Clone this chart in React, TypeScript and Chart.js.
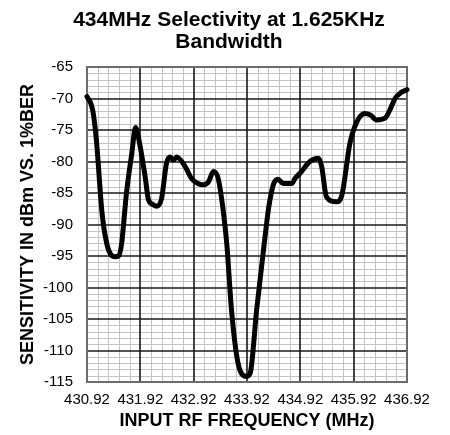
import React, { useEffect, useRef } from 'react';
import { Chart, registerables } from 'chart.js';

Chart.register(...registerables);

const FREQ_MHZ = [
  430.92, 431.0, 431.04, 431.1, 431.2, 431.29, 431.38, 431.45, 431.51, 431.57,
  431.63, 431.66, 431.76, 431.83, 431.91, 432.01, 432.07, 432.15, 432.23, 432.32,
  432.41, 432.48, 432.54, 432.6, 432.76, 432.88, 433.0, 433.1, 433.2, 433.29,
  433.38, 433.48, 433.54, 433.63, 433.73, 433.82, 433.915, 433.98, 434.1, 434.23,
  434.32, 434.35, 434.42, 434.5, 434.6, 434.76, 434.82, 434.91, 435.1, 435.26,
  435.32, 435.41, 435.6, 435.7, 435.85, 435.98, 436.13, 436.23, 436.35, 436.51,
  436.6, 436.695, 436.8, 436.92,
];
const SENS_DBM = [
  -69.7, -71.0, -72.5, -77.0, -88.0, -93.0, -94.9, -95.1, -95.0, -93.0,
  -87.7, -85.0, -78.7, -74.6, -77.3, -82.4, -86.0, -86.8, -87.1, -85.8,
  -80.3, -79.3, -79.8, -79.3, -80.8, -82.7, -83.5, -83.7, -83.2, -81.6,
  -82.7, -88.2, -93.0, -103.6, -111.0, -113.7, -114.1, -113.6, -103.6, -94.0,
  -87.7, -86.1, -83.5, -82.8, -83.5, -83.5, -82.7, -81.9, -80.0, -79.5,
  -80.8, -85.6, -86.4, -85.3, -77.1, -73.7, -72.4, -72.6, -73.4, -73.1,
  -71.8, -70.0, -69.1, -68.6,
];

const X_TICKS = [430.92, 431.92, 432.92, 433.92, 434.92, 435.92, 436.92];
const Y_TICKS = [-115, -110, -105, -100, -95, -90, -85, -80, -75, -70, -65];
const X_MINOR_PER_MAJOR = 5;
const Y_MINOR_PER_MAJOR = 5;

const TITLE = ['434MHz Selectivity at 1.625KHz', 'Bandwidth'];
const X_TITLE = 'INPUT RF FREQUENCY (MHz)';
const Y_TITLE = 'SENSITIVITY IN dBm VS. 1%BER';

const FONT = '"Liberation Sans", Arial, Helvetica, sans-serif';

const paperGrid = {
  id: 'paperGrid',
  beforeDatasetsDraw(chart: any) {
    const { ctx, chartArea: a, scales } = chart;
    const xs = scales.x;
    const ys = scales.y;
    ctx.save();
    ctx.lineWidth = 1;
    ctx.strokeStyle = '#c4c4c4';
    ctx.beginPath();
    for (let i = 0; i < X_TICKS.length - 1; i++) {
      const step = (X_TICKS[i + 1] - X_TICKS[i]) / X_MINOR_PER_MAJOR;
      for (let k = 1; k < X_MINOR_PER_MAJOR; k++) {
        const px = Math.round(xs.getPixelForValue(X_TICKS[i] + k * step)) + 0.5;
        ctx.moveTo(px, a.top);
        ctx.lineTo(px, a.bottom);
      }
    }
    for (let i = 0; i < Y_TICKS.length - 1; i++) {
      const step = (Y_TICKS[i + 1] - Y_TICKS[i]) / Y_MINOR_PER_MAJOR;
      for (let k = 1; k < Y_MINOR_PER_MAJOR; k++) {
        const py = Math.round(ys.getPixelForValue(Y_TICKS[i] + k * step)) + 0.5;
        ctx.moveTo(a.left, py);
        ctx.lineTo(a.right, py);
      }
    }
    ctx.stroke();
    ctx.lineWidth = 1.6;
    ctx.strokeStyle = '#1a1a1a';
    ctx.beginPath();
    X_TICKS.forEach((v) => {
      const px = Math.round(xs.getPixelForValue(v));
      ctx.moveTo(px, a.top);
      ctx.lineTo(px, a.bottom);
    });
    Y_TICKS.forEach((v) => {
      const py = Math.round(ys.getPixelForValue(v));
      ctx.moveTo(a.left, py);
      ctx.lineTo(a.right, py);
    });
    ctx.stroke();
    ctx.lineWidth = 2;
    ctx.strokeStyle = '#6c6c6c';
    ctx.strokeRect(a.left, a.top, a.right - a.left, a.bottom - a.top);
    ctx.restore();
  },
};

export default function App() {
  const ref = useRef<HTMLCanvasElement | null>(null);

  useEffect(() => {
    if (!ref.current) return;
    Chart.defaults.font.family = FONT;
    const chart = new Chart(ref.current, {
      type: 'scatter',
      data: {
        datasets: [
          {
            data: FREQ_MHZ.map((f, i) => ({ x: f, y: SENS_DBM[i] })),
            showLine: true,
            borderColor: '#000',
            borderWidth: 5,
            pointRadius: 0,
            cubicInterpolationMode: 'monotone',
            borderCapStyle: 'round',
            borderJoinStyle: 'round',
            clip: 3,
          } as any,
        ],
      },
      options: {
        animation: false,
        responsive: false,
        events: [],
        layout: { padding: { left: 8, right: 0, top: 0, bottom: 0 } },
        plugins: {
          legend: { display: false },
          tooltip: { enabled: false },
          title: {
            display: true,
            text: TITLE,
            color: '#000',
            font: { size: 21, weight: 'bold', lineHeight: 22 / 21, family: FONT },
            padding: { top: 9, bottom: 14 },
          },
        },
        scales: {
          x: {
            type: 'linear',
            min: X_TICKS[0],
            max: X_TICKS[X_TICKS.length - 1],
            afterBuildTicks: (s: any) => {
              s.ticks = X_TICKS.map((v) => ({ value: v }));
            },
            afterFit: (s: any) => {
              s.height = 53;
            },
            ticks: {
              callback: (v: any) => Number(v).toFixed(2),
              color: '#000',
              font: { size: 15, family: FONT },
              padding: 9,
              autoSkip: false,
              maxRotation: 0,
            },
            grid: { display: false, drawTicks: false },
            border: { display: false },
            title: {
              display: true,
              text: X_TITLE,
              color: '#000',
              font: { size: 18, weight: 'bold', family: FONT },
              padding: { top: 0, bottom: 3 },
            },
          },
          y: {
            type: 'linear',
            position: 'left',
            min: Y_TICKS[0],
            max: Y_TICKS[Y_TICKS.length - 1],
            afterBuildTicks: (s: any) => {
              s.ticks = Y_TICKS.map((v) => ({ value: v }));
            },
            afterFit: (s: any) => {
              s.width = 79;
            },
            ticks: {
              callback: (v: any) => String(v),
              color: '#000',
              font: { size: 15, family: FONT },
              padding: 14,
              autoSkip: false,
            },
            grid: { display: false, drawTicks: false },
            border: { display: false },
            title: {
              display: true,
              text: Y_TITLE,
              color: '#000',
              font: { size: 18, weight: 'bold', family: FONT },
              padding: { top: 9, bottom: 0 },
            },
          },
          yRightSpace: {
            type: 'linear',
            position: 'right',
            display: true,
            min: Y_TICKS[0],
            max: Y_TICKS[Y_TICKS.length - 1],
            ticks: { display: false },
            grid: { display: false, drawTicks: false },
            border: { display: false },
            afterFit: (s: any) => {
              s.width = 43;
            },
          },
        },
      } as any,
      plugins: [paperGrid],
    });
    return () => chart.destroy();
  }, []);

  return (
    <div style={{ position: 'fixed', left: 0, top: 0, width: 450, height: 435, background: '#fff' }}>
      <canvas ref={ref} width={450} height={435} style={{ display: 'block' }} />
    </div>
  );
}
